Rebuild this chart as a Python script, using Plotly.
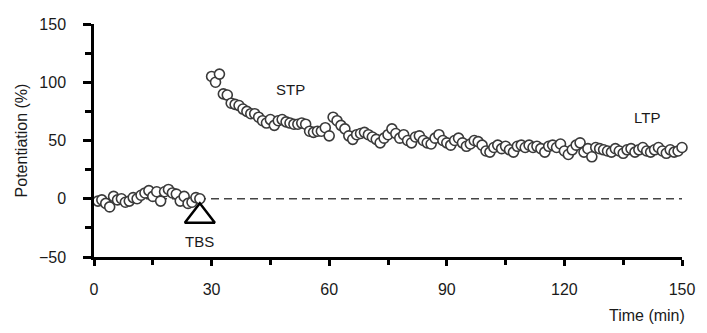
import plotly.graph_objects as go

# ---- data ----
baseline_time = list(range(1, 28))
baseline_pot = [-2, -1, -4, -7, 2, -1, 0, -3, -2, 1, 0, 3, 5, 7, 2, 6, -2, 6, 8, 5, 4, -2, 2, -4, -3, 1, 0]

post_time = list(range(30, 151))
post_pot = [105, 100, 107, 90, 89, 82, 81, 80, 77, 75,
            73, 73, 70, 67, 65, 68, 63, 67, 68, 66,
            65, 64, 64, 65, 64, 58, 57, 58, 58, 61,
            54, 70, 67, 63, 60, 54, 51, 55, 56, 57,
            55, 53, 51, 48, 52, 55, 60, 56, 52, 55,
            50, 48, 53, 54, 50, 48, 47, 52, 55, 50,
            48, 46, 50, 52, 48, 45, 47, 50, 49, 46,
            41, 40, 44, 46, 43, 45, 42, 40, 45, 46,
            44, 46, 44, 45, 43, 40, 45, 46, 44, 47,
            41, 38, 42, 46, 48, 40, 43, 36, 44, 43,
            42, 41, 40, 43, 41, 39, 42, 43, 40, 42,
            44, 41, 40, 42, 44, 41, 39, 42, 40, 41, 44]

x_ticks = [0, 30, 60, 90, 120, 150]
y_ticks = [-50, 0, 50, 100, 150]

tbs_time, tbs_level = 27, -15
tbs_label_level = -37
stp_pos = (50, 94)
ltp_pos = (141, 70)

FONT = "Liberation Sans, Arial, sans-serif"
TXT = "#1a1a1a"

fig = go.Figure()

# dashed zero line
fig.add_trace(go.Scatter(x=[0, 150], y=[0, 0], mode="lines",
                         line=dict(color="#444444", width=1.3, dash="8px,5px"),
                         hoverinfo="skip", showlegend=False, cliponaxis=False))

marker = dict(symbol="circle", size=10, color="white",
              line=dict(color="#3a3a3a", width=1.6))
fig.add_trace(go.Scatter(x=baseline_time, y=baseline_pot, mode="markers",
                         marker=marker, showlegend=False, cliponaxis=False))
fig.add_trace(go.Scatter(x=post_time, y=post_pot, mode="markers",
                         marker=marker, showlegend=False, cliponaxis=False))

# TBS triangle
fig.add_trace(go.Scatter(x=[tbs_time], y=[tbs_level], mode="markers",
                         marker=dict(symbol="triangle-up-open", size=26,
                                     color="black", line=dict(color="black", width=2.5)),
                         showlegend=False, cliponaxis=False))

fig.add_annotation(x=tbs_time, y=tbs_label_level, text="TBS", showarrow=False,
                   font=dict(family=FONT, size=15, color=TXT))
fig.add_annotation(x=stp_pos[0], y=stp_pos[1], text="STP", showarrow=False,
                   font=dict(family=FONT, size=15, color=TXT))
fig.add_annotation(x=ltp_pos[0], y=ltp_pos[1], text="LTP", showarrow=False,
                   font=dict(family=FONT, size=15, color=TXT))
fig.add_annotation(xref="paper", yref="paper", x=1.0, y=0, xanchor="right",
                   yanchor="top", yshift=-48, xshift=5, text="Time (min)", showarrow=False,
                   font=dict(family=FONT, size=16, color=TXT))

fig.update_xaxes(range=[0, 150], tickvals=x_ticks, ticks="outside", ticklen=6,
                 tickwidth=2.5, tickcolor="black", showline=True, linecolor="black",
                 linewidth=2.5, showgrid=False, zeroline=False,
                 minor=dict(tick0=0, dtick=15, ticks="outside", ticklen=5, tickwidth=2.5,
                            tickcolor="black"),
                 tickfont=dict(family=FONT, size=16, color=TXT),
                 ticklabelstandoff=10)
fig.update_yaxes(range=[-50, 150], tickvals=y_ticks, ticks="outside", ticklen=8,
                 tickwidth=2.5, tickcolor="black", showline=True, linecolor="black",
                 linewidth=2.5, showgrid=False, zeroline=False,
                 minor=dict(tick0=0, dtick=25, ticks="outside", ticklen=6, tickwidth=2.5,
                            tickcolor="black"),
                 tickfont=dict(family=FONT, size=16, color=TXT),
                 ticklabelstandoff=14,
                 title=dict(text="Potentiation (%)", standoff=8,
                            font=dict(family=FONT, size=16, color=TXT)))

fig.update_layout(width=707, height=333, margin=dict(l=94, r=19, t=24, b=76),
                  plot_bgcolor="white", paper_bgcolor="white")

fig.write_html("out.html")
